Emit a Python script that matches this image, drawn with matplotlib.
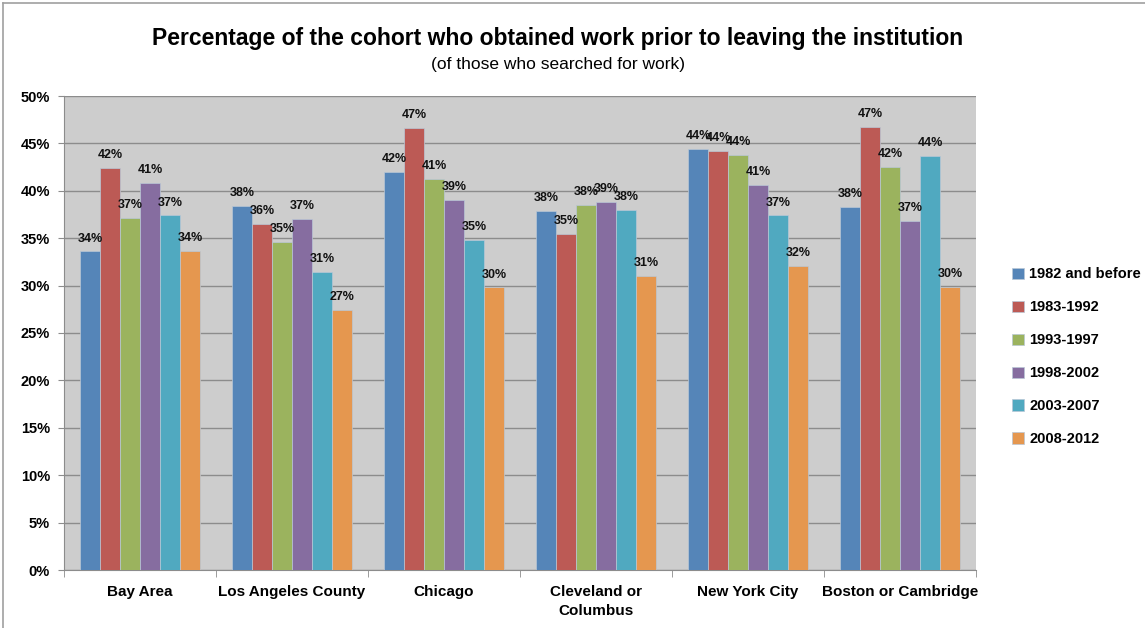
import matplotlib
matplotlib.use("Agg")
import matplotlib.pyplot as plt
from matplotlib.lines import Line2D
import numpy as np

plt.rcParams['font.family'] = ['Liberation Sans', 'DejaVu Sans']

categories = ["Bay Area", "Los Angeles County", "Chicago", "Cleveland or\nColumbus",
              "New York City", "Boston or Cambridge"]
series_names = ["1982 and before", "1983-1992", "1993-1997", "1998-2002", "2003-2007", "2008-2012"]
v1982 = [33.6, 38.4, 42.0, 37.9, 44.4, 38.3]
v1983 = [42.4, 36.5, 46.6, 35.4, 44.2, 46.7]
v1993 = [37.1, 34.6, 41.2, 38.5, 43.8, 42.5]
v1998 = [40.8, 37.0, 39.0, 38.8, 40.6, 36.8]
v2003 = [37.4, 31.4, 34.8, 38.0, 37.4, 43.7]
v2008 = [33.7, 27.4, 29.8, 31.0, 32.1, 29.9]
series_values = [v1982, v1983, v1993, v1998, v2003, v2008]
colors = ["#5585B8", "#BC5A55", "#9BB35E", "#866DA0", "#50A9C0", "#E5974F"]
yticks = [0, 5, 10, 15, 20, 25, 30, 35, 40, 45, 50]

fig = plt.figure(figsize=(11.45, 6.28), dpi=100)
ax = fig.add_axes([64/1145, 1-570/628, (976-64)/1145, (570-96)/628])
ax.set_facecolor("#CDCDCD")

x = np.arange(len(categories))
w = 20/152
for i, (vals, col, name) in enumerate(zip(series_values, colors, series_names)):
    pos = x + (i - 2.5) * w
    ax.bar(pos, vals, width=w, color=col, edgecolor="#B9C7D6", linewidth=0.5,
           label=name, zorder=3)
    for p, v in zip(pos, vals):
        ax.annotate(f"{v:.0f}%", (p, v), xytext=(0, 5), textcoords="offset points",
                    ha="center", va="bottom", fontsize=9, fontweight="bold", color="#111111",
                    zorder=4)

ax.set_xlim(-0.5, len(categories) - 0.5)
ax.set_ylim(0, 50)
ax.set_yticks(yticks)
ax.set_yticklabels([f"{t}%" for t in yticks], fontsize=10.5, fontweight="bold")
ax.yaxis.grid(True, color="#8C8C8C", linewidth=1.0, zorder=0)
ax.set_axisbelow(True)
ax.set_xticks(x)
ax.set_xticklabels(categories, fontsize=11, fontweight="bold", linespacing=1.4)
ax.set_xticks(np.arange(-0.5, len(categories)), minor=True)
ax.tick_params(axis="x", which="major", length=0, pad=11)
ax.tick_params(axis="x", which="minor", length=5, color="#8C8C8C", direction="out")
ax.tick_params(axis="y", length=4, color="#8C8C8C", direction="out", pad=6)
for s in ["top", "right"]:
    ax.spines[s].set_visible(False)
for s in ["left", "bottom"]:
    ax.spines[s].set_color("#8C8C8C")

fig.text(558/1145, 1-38/628, "Percentage of the cohort who obtained work prior to leaving the institution",
         ha="center", va="center", fontsize=16.5, fontweight="bold")
fig.text(558/1145, 1-64/628, "(of those who searched for work)", ha="center", va="center", fontsize=12.5)

ax.legend(loc="center left", bbox_to_anchor=(1.025, 0.45), frameon=False,
          prop={"weight": "bold", "size": 10.5}, handlelength=0.8, handleheight=0.8,
          handletextpad=0.4, labelspacing=1.3)

fig.add_artist(Line2D([3/1145, 1], [1-3/628, 1-3/628], color="#A0A0A0", linewidth=1.2))
fig.add_artist(Line2D([3/1145, 3/1145], [0, 1-3/628], color="#A0A0A0", linewidth=1.2))

fig.savefig("out.png", dpi=100)
